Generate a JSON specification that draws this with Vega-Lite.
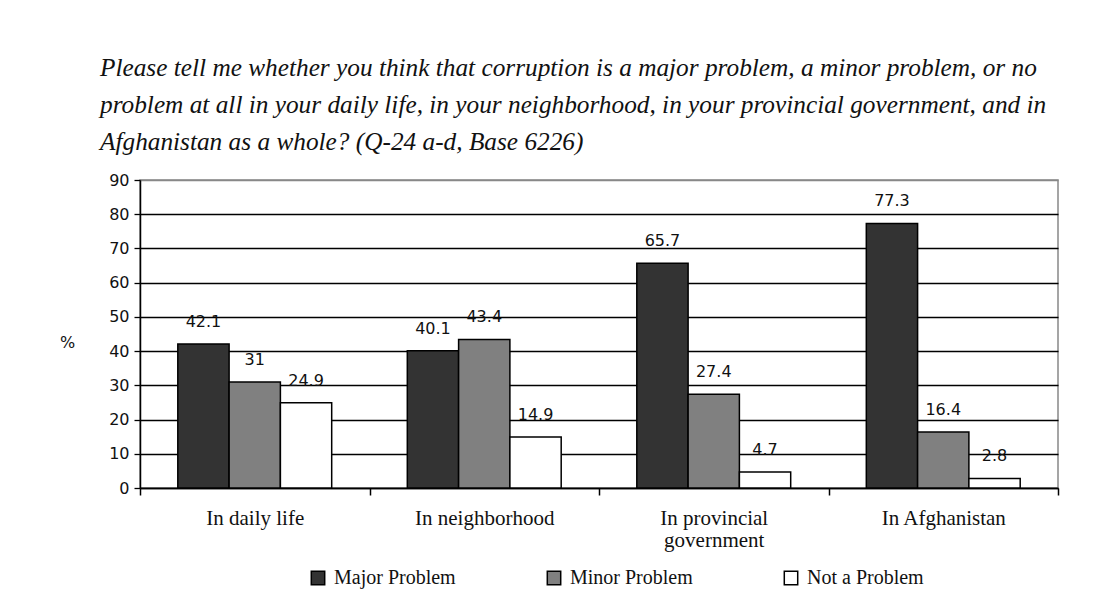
{
  "$schema": "https://vega.github.io/schema/vega-lite/v6.json",
  "width": 918,
  "height": 308,
  "autosize": "none",
  "padding": {"left": 140, "top": 180, "right": 55, "bottom": 111},
  "background": "white",
  "config": {"view": {"stroke": "#888888", "strokeWidth": 1.5}},
  "title": {
    "text": [
      "Please tell me whether you think that corruption is a major problem, a minor problem, or no",
      "problem at all in your daily life, in your neighborhood, in your provincial government, and in",
      "Afghanistan as a whole? (Q-24 a-d, Base 6226)"
    ],
    "anchor": "start",
    "frame": "group",
    "dx": -40,
    "offset": 17,
    "font": "Liberation Serif",
    "fontStyle": "italic",
    "fontWeight": "normal",
    "fontSize": 25.3,
    "lineHeight": 37,
    "color": "#111111"
  },
  "data": {
    "values": [
      {"location": "In daily life", "response": "Major Problem", "value": 42.1},
      {"location": "In daily life", "response": "Minor Problem", "value": 31},
      {"location": "In daily life", "response": "Not a Problem", "value": 24.9},
      {"location": "In neighborhood", "response": "Major Problem", "value": 40.1},
      {"location": "In neighborhood", "response": "Minor Problem", "value": 43.4},
      {"location": "In neighborhood", "response": "Not a Problem", "value": 14.9},
      {"location": "In provincial government", "response": "Major Problem", "value": 65.7},
      {"location": "In provincial government", "response": "Minor Problem", "value": 27.4},
      {"location": "In provincial government", "response": "Not a Problem", "value": 4.7},
      {"location": "In Afghanistan", "response": "Major Problem", "value": 77.3},
      {"location": "In Afghanistan", "response": "Minor Problem", "value": 16.4},
      {"location": "In Afghanistan", "response": "Not a Problem", "value": 2.8}
    ]
  },
  "encoding": {
    "x": {
      "field": "location",
      "type": "nominal",
      "sort": ["In daily life", "In neighborhood", "In provincial government", "In Afghanistan"],
      "scale": {"paddingInner": 0, "paddingOuter": 0},
      "axis": {
        "title": null,
        "labelAngle": 0,
        "tickBand": "extent",
        "domainColor": "#000000",
        "domainWidth": 1.5,
        "tickColor": "#000000",
        "tickWidth": 1.5,
        "tickSize": 7,
        "labelFont": "Liberation Serif",
        "labelFontSize": 21,
        "labelColor": "#111111",
        "labelPadding": 12,
        "labelBaseline": "top",
        "labelLineHeight": 22,
        "labelExpr": "datum.value == 'In provincial government' ? ['In provincial', 'government'] : datum.value"
      }
    },
    "xOffset": {
      "field": "response",
      "sort": ["Major Problem", "Minor Problem", "Not a Problem"],
      "scale": {"paddingInner": 0, "paddingOuter": 0.737}
    },
    "y": {
      "field": "value",
      "type": "quantitative",
      "scale": {"domain": [0, 90], "nice": false},
      "axis": {
        "values": [0, 10, 20, 30, 40, 50, 60, 70, 80, 90],
        "title": "%",
        "titleAngle": 0,
        "titleX": -73,
        "titleY": 162,
        "titleAlign": "center",
        "titleBaseline": "middle",
        "titleFont": "DejaVu Sans",
        "titleFontSize": 16,
        "titleFontWeight": "normal",
        "titleColor": "#111111",
        "grid": true,
        "gridColor": {"condition": {"test": "datum.value == 90", "value": "#888888"}, "value": "#000000"},
        "gridWidth": 1.3,
        "domainColor": "#000000",
        "domainWidth": 1.5,
        "tickColor": "#000000",
        "tickWidth": 1.3,
        "tickSize": 6,
        "labelFont": "DejaVu Sans",
        "labelFontSize": 16,
        "labelColor": "#111111",
        "labelPadding": 5
      }
    }
  },
  "layer": [
    {
      "mark": {"type": "bar", "stroke": "#000000", "strokeWidth": 1.5},
      "encoding": {
        "color": {
          "field": "response",
          "type": "nominal",
          "sort": ["Major Problem", "Minor Problem", "Not a Problem"],
          "scale": {"domain": ["Major Problem", "Minor Problem", "Not a Problem"], "range": ["#333333", "#808080", "#ffffff"]},
          "legend": {
            "orient": "none",
            "legendX": 168,
            "legendY": 388,
            "direction": "horizontal",
            "title": null,
            "symbolType": "square",
            "symbolSize": 180,
            "symbolStrokeColor": "#000000",
            "symbolStrokeWidth": 1.5,
            "symbolOpacity": 1,
            "labelFont": "Liberation Serif",
            "labelFontSize": 20,
            "labelColor": "#111111",
            "labelOffset": 6,
            "columnPadding": 88
          }
        }
      }
    },
    {
      "mark": {"type": "text", "dy": -22, "baseline": "middle", "align": "center", "font": "DejaVu Sans", "fontSize": 16, "color": "#111111"},
      "encoding": {
        "text": {"field": "value", "type": "quantitative"}
      }
    }
  ]
}
